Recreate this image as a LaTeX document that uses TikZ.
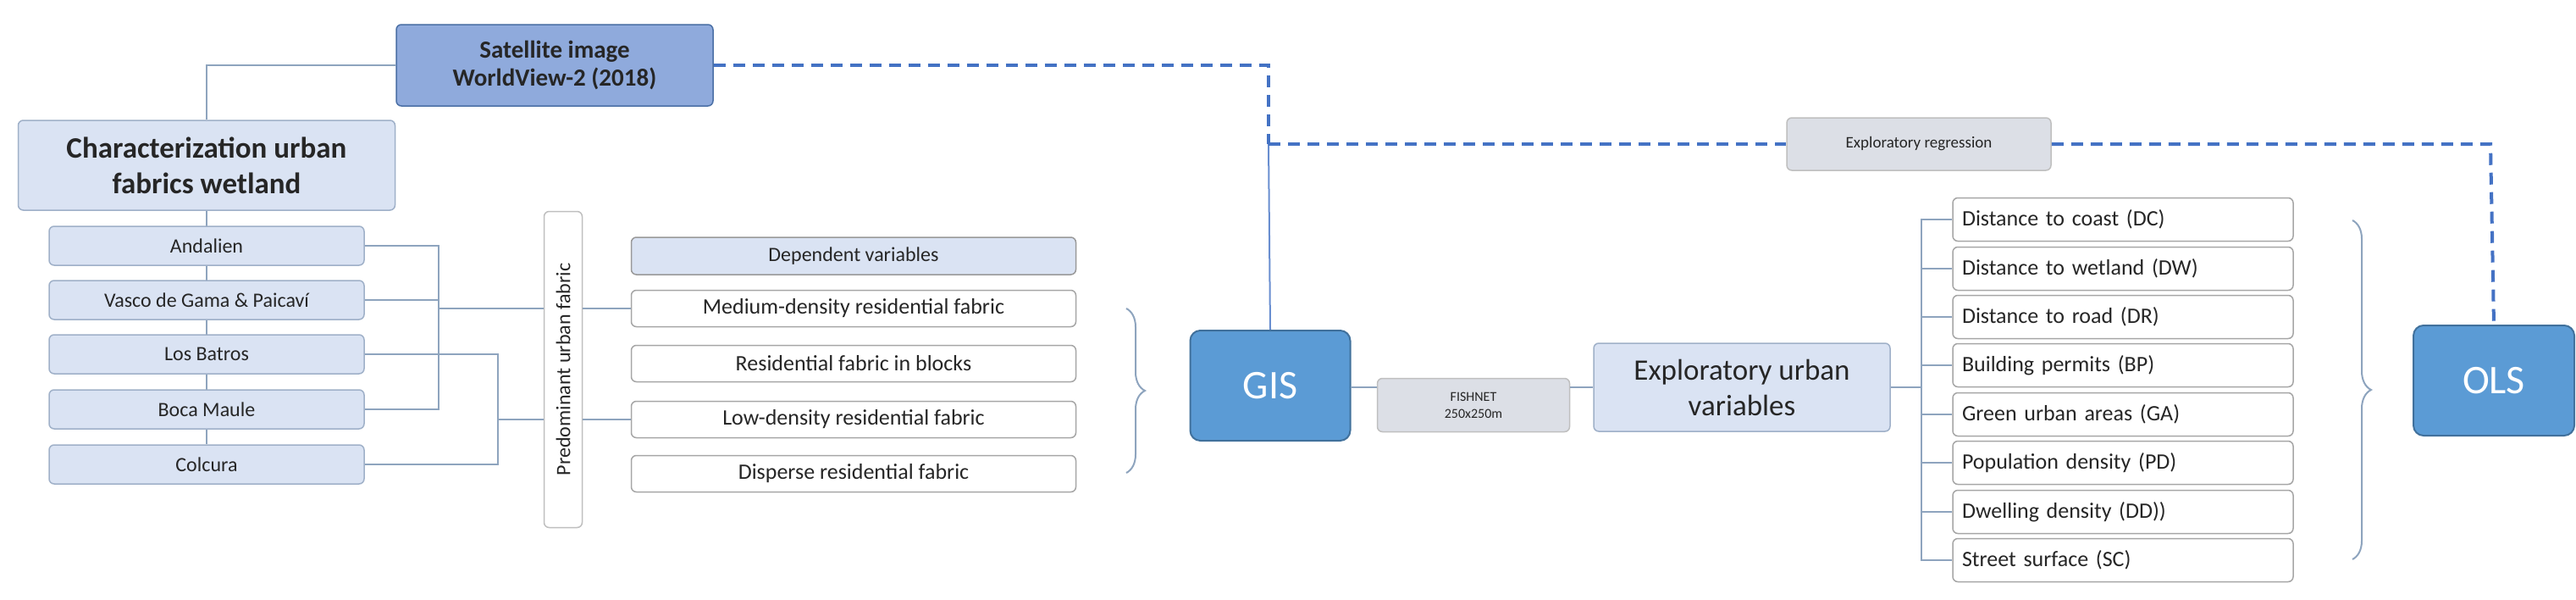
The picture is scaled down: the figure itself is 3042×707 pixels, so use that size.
\documentclass[tikz,border=0pt]{standalone}
\usepackage{fontspec}
\setmainfont{Carlito}
\usetikzlibrary{decorations.pathreplacing,backgrounds}
\definecolor{lb}{HTML}{DAE3F3}
\definecolor{lbd}{HTML}{9FB0C8}
\definecolor{sat}{HTML}{8FAADC}
\definecolor{satd}{HTML}{4A6FA5}
\definecolor{gis}{HTML}{5B9BD5}
\definecolor{gisd}{HTML}{41719C}
\definecolor{gr}{HTML}{DCDFE6}
\definecolor{ln}{HTML}{8EA4BE}
\definecolor{dash}{HTML}{4472C4}
\tikzset{
 box/.style={draw=lbd,line width=1.5pt,rounded corners=6pt,align=center,inner sep=0pt,text=black!85},
 light/.style={box,fill=lb},
 white/.style={box,fill=white,draw=black!35},
 grey/.style={box,fill=gr,draw=black!25},
 big/.style={box,fill=gis,draw=gisd,text=white,line width=2pt,rounded corners=12pt},
 conn/.style={draw=ln,line width=2pt},
 dsh/.style={draw=dash,line width=4pt,dash pattern=on 14pt off 9pt},
 br/.style={draw=ln,line width=2pt,decorate,decoration={brace,amplitude=22pt}}
}
\begin{document}
\begin{tikzpicture}[x=1pt,y=-1pt]
\useasboundingbox (0,0) rectangle (3042,707);
% top
\node[box,fill=sat,draw=satd,minimum width=374,minimum height=96,font=\fontsize{29}{33}\selectfont\bfseries] (sat) at (655,77) {Satellite image\\WorldView-2 (2018)};
\node[light,minimum width=445,minimum height=106,font=\fontsize{35}{42}\selectfont\bfseries] (chr) at (244,195) {Characterization urban\\fabrics wetland};
% list
\foreach \n/\t/\y in {a/Andalien/290,v/Vasco de Gama \& Paicaví/354,l/Los Batros/418,b/Boca Maule/483,c/Colcura/548}
  \node[light,minimum width=372,minimum height=46,font=\fontsize{24}{27}\selectfont] (\n) at (244,\y) {\t};
\node[box,fill=white,draw=black!25,minimum width=373,minimum height=45,rotate=90,font=\fontsize{24}{27}\selectfont] (pre) at (665,436) {Predominant urban fabric};
\node[light,draw=black!40,minimum width=525,minimum height=44,font=\fontsize{24}{27}\selectfont] (dep) at (1008,302) {Dependent variables};
\foreach \n/\t/\y in {m/Medium-density residential fabric/364,r/Residential fabric in blocks/429,lo/Low-density residential fabric/495,d/Disperse residential fabric/559}
  \node[white,minimum width=525,minimum height=43,font=\fontsize{26}{30}\selectfont] (\n) at (1008,\y) {\t};
\node[big,minimum width=189,minimum height=130,font=\fontsize{48}{50}\selectfont] (gis) at (1500,455) {GIS};
\node[big,minimum width=190,minimum height=130,font=\fontsize{48}{50}\selectfont] (ols) at (2945,449) {OLS};
\node[grey,minimum width=227,minimum height=63,font=\fontsize{16}{20}\selectfont] (fish) at (1740,478) {FISHNET\\250x250m};
\node[light,minimum width=350,minimum height=104,font=\fontsize{35}{42}\selectfont] (euv) at (2057,457) {Exploratory urban\\variables};
\node[grey,minimum width=312,minimum height=62,font=\fontsize{19}{22}\selectfont] (reg) at (2266,170) {Exploratory regression};
\foreach \n/\t/\y in {v1/Distance to coast (DC)/259,v2/Distance to wetland (DW)/317,v3/Distance to road (DR)/374,v4/Building permits (BP)/431,v5/Green urban areas (GA)/489,v6/Population density (PD)/546,v7/Dwelling density (DD))/604,v8/Street surface (SC)/661}
  \node[white,minimum width=402,minimum height=51,text width=380,align=left,font=\fontsize{26}{29}\selectfont] (\n) at (2507,\y) {\t};
% connectors
\draw[conn] (sat.west) -| (chr.north);
\begin{scope}[on background layer]
\draw[conn] (chr.south) -- (c.north);
\end{scope}
\coordinate (j1) at (518,364);
\coordinate (j2) at (588,495);
\draw[conn] (a.east) -| (518,483) -- (b.east);
\draw[conn] (v.east) -- (v.east -| j1);
\draw[conn] (j1) -- (j1 -| pre.north);
\draw[conn] (l.east) -| (588,548) -- (c.east);
\draw[conn] (j2) -- (j2 -| pre.north);
\draw[conn] (m.west -| pre.south) -- (m.west);
\draw[conn] (lo.west -| pre.south) -- (lo.west);
\draw[br] (1330,364) -- (1330,558);
\draw[conn] (gis.east |- 0,457) -- (fish.west |- 0,457);
\draw[conn] (fish.east |- 0,457) -- (euv.west |- 0,457);
\coordinate (k) at (2269,457);
\draw[conn] (euv.east |- k) -- (k);
\draw[conn] (v1.west) -| (k) |- (v8.west);
\foreach \i in {2,...,7} \draw[conn] (v\i.west) -- (v\i.west -| k);
\draw[br] (2778,260) -- (2778,660);
\coordinate (c1) at (1498,77);
\coordinate (c2) at (1498,170);
\coordinate (c3) at (2941,170);
\draw[conn,draw=dash!80] (gis.north) -- (c2);
\draw[dsh] (sat.east) -- (c1) -- (c2);
\draw[dsh] (c2) -- (reg.west);
\draw[dsh] (reg.east) -- (c3) -- (ols.north);
\end{tikzpicture}
\end{document}
